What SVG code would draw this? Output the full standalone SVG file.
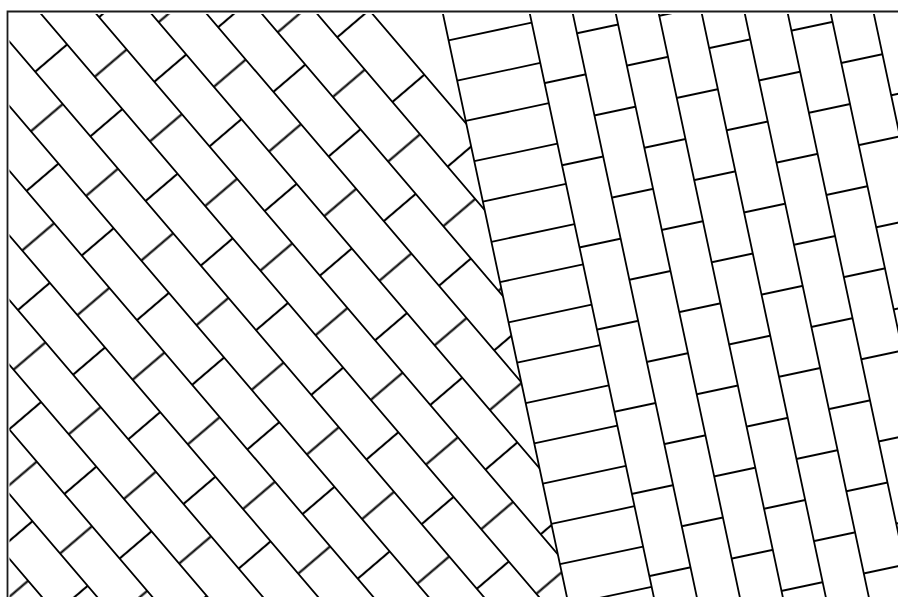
<svg xmlns="http://www.w3.org/2000/svg" width="898" height="597" viewBox="0 0 898 597">
  <style>
    .ln { stroke:#000; stroke-width:1.8; fill:none; stroke-linecap:butt; }
    .pl { stroke:#000; stroke-width:2.1; fill:none; stroke-linecap:butt; }
    .frame { stroke:#1a1a1a; stroke-width:1.8; fill:none; }
  </style>
  <defs>
    <!-- diagonal bricks (left), local coords: x along brick length, y across lanes -->
    <pattern id="diagCross" patternUnits="userSpaceOnUse" x="57.4" y="-22.2" width="85" height="84">
      <path class="pl" d="M20,0 V42 M62.5,42 V84"/>
    </pattern>
    <!-- upright bricks (right), local coords: x across columns, y along columns -->
    <pattern id="uprightCross" patternUnits="userSpaceOnUse" x="515.4" y="174.5" width="84.12" height="84">
      <path class="pl" d="M0,20 H42.06 M42.06,62 H84.12"/>
    </pattern>
    <clipPath id="clipLeft">
      <polygon points="9.5,14 375.1,14 465.4,119.7 566.9,597 9.5,597"/>
    </clipPath>
    <clipPath id="clipRight">
      <rect x="0" y="14" width="898" height="583"/>
    </clipPath>
  </defs>

  <rect x="0" y="0" width="898" height="597" fill="#fff"/>

  <g id="frame">
    <path class="frame" d="M7.5,597 V11.5 H898"/>
  </g>

  <g id="left-bricks" clip-path="url(#clipLeft)">
    <g transform="rotate(49.5)">
      <rect x="0" y="-274.2" width="860" height="700" fill="url(#diagCross)"/>
      <path class="ln" d="M0,-274.2 H860 M0,-232.2 H860 M0,-190.2 H860 M0,-148.2 H860 M0,-106.2 H860 M0,-64.2 H860 M0,-22.2 H860 M0,19.8 H860 M0,61.8 H860 M0,103.8 H860 M0,145.8 H860 M0,187.8 H860 M0,229.8 H860 M0,271.8 H860 M0,313.8 H860 M0,355.8 H860"/>
    </g>
  </g>

  <g id="right-bricks" clip-path="url(#clipRight)">
    <g transform="rotate(-12)">
      <rect x="515.4" y="0" width="450" height="900" fill="url(#uprightCross)"/>
      <path class="ln" d="M430.4,0 V900 M515.4,0 V900 M557.46,0 V900 M599.52,0 V900 M641.58,0 V900 M683.64,0 V900 M725.7,0 V900 M767.76,0 V900 M809.82,0 V900 M851.88,0 V900 M893.94,0 V900"/>
      <path class="ln" d="M430.4,132.7 H515.4 M430.4,173.9 H515.4 M430.4,215.1 H515.4 M430.4,256.3 H515.4 M430.4,297.5 H515.4 M430.4,338.7 H515.4 M430.4,379.9 H515.4 M430.4,421.1 H515.4 M430.4,462.3 H515.4 M430.4,503.5 H515.4 M430.4,544.7 H515.4 M430.4,585.9 H515.4 M430.4,627.1 H515.4 M430.4,668.3 H515.4 M430.4,709.5 H515.4"/>
    </g>
  </g>
</svg>
